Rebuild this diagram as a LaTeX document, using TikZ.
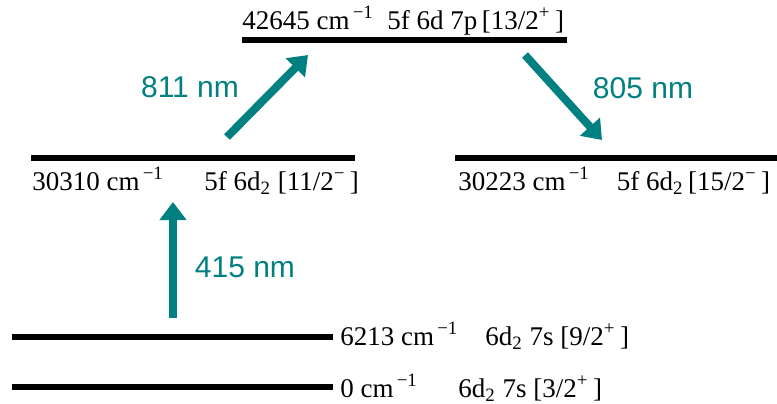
\documentclass[tikz,border=0pt]{standalone}
\usepackage{fontspec}
\setmainfont{Liberation Serif}
\setsansfont{Liberation Sans}
\usetikzlibrary{arrows.meta, positioning}
\definecolor{arrowteal}{RGB}{0,128,128}
\newcommand{\wavenum}{\ cm\textsuperscript{\,−1}}

\begin{document}
\begin{tikzpicture}[x=0.5pt, y=-0.5pt,
  level/.style={line width=3pt},
  lbl/.style={anchor=base west, inner sep=0pt, font=\fontsize{13.5}{16}\selectfont},
  trans/.style={arrowteal, line width=4pt, -{Triangle[length=9pt, width=13pt]}},
  nm/.style={text=arrowteal, inner sep=0pt, font=\sffamily\fontsize{15}{18}\selectfont}]
  \useasboundingbox (0,0) rectangle (777,403);

  % level ends
  \coordinate (G0a) at (12,387);  \coordinate (G0b) at (333,387);
  \coordinate (G1a) at (12,337);  \coordinate (G1b) at (333,337);
  \coordinate (E1a) at (31,158);  \coordinate (E1b) at (355,158);
  \coordinate (E2a) at (455,158); \coordinate (E2b) at (777,158);
  \coordinate (T0a) at (242,40);  \coordinate (T0b) at (567,40);

  \draw[level] (G0a) -- (G0b);
  \draw[level] (G1a) -- (G1b);
  \draw[level] (E1a) -- (E1b);
  \draw[level] (E2a) -- (E2b);
  \draw[level] (T0a) -- (T0b);

  % level labels
  \node[lbl] (G0lbl) at (340,397) {0\wavenum\quad\ \ 6d\textsubscript{2} 7s [3/2\textsuperscript{+}\,]};
  \node[lbl] (G1lbl) at (340,345) {6213\wavenum\quad 6d\textsubscript{2} 7s [9/2\textsuperscript{+}\,]};
  \node[lbl] (E1lbl) at (32,190) {30310\wavenum\quad\ \ 5f 6d\textsubscript{2} [11/2\textsuperscript{−}\,]};
  \node[lbl] (E2lbl) at (458,190) {30223\wavenum\quad 5f 6d\textsubscript{2}\,[15/2\textsuperscript{−}\,]};
  \node[lbl] (T0lbl) at (242,29) {42645\wavenum\ \ 5f 6d 7p\,[13/2\textsuperscript{+}\,]};

  % transitions
  \coordinate (a1s) at (173,318); \coordinate (a1e) at (173,202);
  \coordinate (a2s) at (227,137); \coordinate (a2e) at (308,55);
  \coordinate (a3s) at (525,55);  \coordinate (a3e) at (602,140);

  \draw[trans] (a1s) -- (a1e);
  \draw[trans] (a2s) -- (a2e);
  \draw[trans] (a3s) -- (a3e);

  \node[nm] (nm415) at (245,267) {415 nm};
  \node[nm] (nm811) at (190,87) {811 nm};
  \node[nm] (nm805) at (643,88) {805 nm};
\end{tikzpicture}
\end{document}
